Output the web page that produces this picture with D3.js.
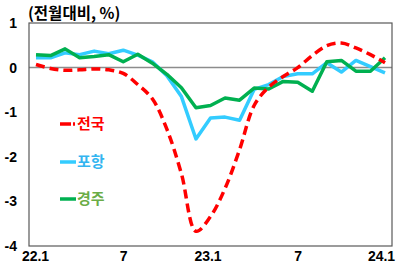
<!DOCTYPE html>
<html>
<head>
<meta charset="utf-8">
<script src="https://cdn.jsdelivr.net/npm/d3@7"></script>
<style>
  body { margin: 0; background: #fff; }
  svg text { font-family: "Liberation Sans", Arial, sans-serif; font-weight: bold; }
  .kr { font-family: "Noto Sans CJK KR", sans-serif; font-weight: bold; }
</style>
</head>
<body>
<div id="chart"></div>
<script>
// months 22.1 .. 24.1
var months = d3.range(25);
var nation = [0.07, -0.02, -0.06, -0.05, -0.03, -0.05, -0.13, -0.38, -0.70, -1.38, -2.38, -3.67, -3.34,
              -2.71, -1.84, -0.85, -0.44, -0.20, 0.00, 0.27, 0.49, 0.55, 0.44, 0.29, 0.11];
var pohang = [0.22, 0.22, 0.33, 0.29, 0.37, 0.31, 0.39, 0.28, 0.13, -0.18, -0.65, -1.60, -1.13,
              -1.11, -1.18, -0.49, -0.38, -0.20, -0.14, -0.14, 0.11, -0.10, 0.16, 0.02, -0.12];
var gyeongju = [0.29, 0.27, 0.42, 0.22, 0.25, 0.29, 0.13, 0.30, 0.10, -0.15, -0.45, -0.90, -0.85,
                -0.68, -0.73, -0.46, -0.48, -0.31, -0.33, -0.53, 0.13, 0.16, -0.08, -0.08, 0.22];
var yTicks = [1, 0, -1, -2, -3, -4];
var xTicks = [0, 6, 12, 18, 24];
var xTickLabels = ["22.1", "7", "23.1", "7", "24.1"];
var seriesNames = ["전국", "포항", "경주"];

var width = 406, height = 269;
var pLeft = 29, pRight = 392, pTop = 23, pBottom = 246;

var svg = d3.select("#chart").append("svg").attr("width", width).attr("height", height);

var x = d3.scaleLinear().domain([0, 24]).range([36, 385]);
var y = d3.scaleLinear().domain([-4, 1]).range([pBottom, pTop]);

// zero line
svg.append("line")
  .attr("x1", pLeft).attr("x2", pRight)
  .attr("y1", y(0)).attr("y2", y(0))
  .attr("stroke", "#8c8c8c").attr("stroke-width", 1.5);

// frame
svg.append("rect")
  .attr("x", pLeft).attr("y", pTop)
  .attr("width", pRight - pLeft).attr("height", pBottom - pTop)
  .attr("fill", "none").attr("stroke", "#595959").attr("stroke-width", 1.2);

// y axis labels
var yAxis = d3.axisLeft(y).tickValues(yTicks).tickSize(0).tickPadding(12)
  .tickFormat(function(d) { return String(d); });
var ya = svg.append("g").attr("transform", "translate(" + pLeft + ",0)").call(yAxis);
ya.select(".domain").remove();
ya.selectAll("text").attr("font-size", 14).attr("fill", "#000")
  .attr("font-family", "Liberation Sans, Arial, sans-serif").attr("font-weight", "bold");

// x axis labels
var xAxis = d3.axisBottom(x).tickValues(xTicks).tickSize(0).tickPadding(5)
  .tickFormat(function(d, i) { return xTickLabels[i]; });
var xa = svg.append("g").attr("transform", "translate(0," + pBottom + ")").call(xAxis);
xa.select(".domain").remove();
xa.selectAll("text").attr("font-size", 14).attr("fill", "#000")
  .attr("font-family", "Liberation Sans, Arial, sans-serif").attr("font-weight", "bold")
  .attr("dx", function(d, i) { return i == 0 ? -1 : (i == 2 ? -3 : (i == 4 ? -4 : 0)); });

// lines
var straight = d3.line().x(function(d, i) { return x(months[i]); }).y(function(d) { return y(d); });
var smooth = d3.line().x(function(d, i) { return x(months[i]); }).y(function(d) { return y(d); })
  .curve(d3.curveCatmullRom.alpha(0.5));

svg.append("path").datum(pohang)
  .attr("d", straight).attr("fill", "none")
  .attr("stroke", "#33ccff").attr("stroke-width", 3.5).attr("stroke-linejoin", "round");

svg.append("path").datum(gyeongju)
  .attr("d", straight).attr("fill", "none")
  .attr("stroke", "#00b050").attr("stroke-width", 3.5).attr("stroke-linejoin", "round");

svg.append("path").datum(nation)
  .attr("d", smooth).attr("fill", "none")
  .attr("stroke", "#ff0000").attr("stroke-width", 3.5).attr("stroke-dasharray", "9,5");

// title
svg.append("text").attr("class", "kr")
  .attr("x", 28).attr("y", 19)
  .attr("font-size", 15.5).attr("fill", "#000")
  .text("(전월대비, %)");

// legend
var legColors = ["#ff0000", "#33ccff", "#00b050"];
var legText = ["#ff0000", "#33b5f0", "#6aac46"];
var legY = [124, 162, 199];
seriesNames.forEach(function(name, i) {
  if (i == 0) {
    svg.append("line").attr("x1", 60).attr("x2", 71).attr("y1", legY[i]).attr("y2", legY[i])
      .attr("stroke", legColors[i]).attr("stroke-width", 3.5);
    svg.append("line").attr("x1", 73).attr("x2", 75).attr("y1", legY[i]).attr("y2", legY[i])
      .attr("stroke", legColors[i]).attr("stroke-width", 3.5);
  } else {
    svg.append("line").attr("x1", 60).attr("x2", 76).attr("y1", legY[i]).attr("y2", legY[i])
      .attr("stroke", legColors[i]).attr("stroke-width", 3.5);
  }
  svg.append("text").attr("class", "kr")
    .attr("x", 77).attr("y", legY[i] + 5)
    .attr("font-size", 15).attr("fill", legText[i])
    .text(name);
});
</script>
</body>
</html>
